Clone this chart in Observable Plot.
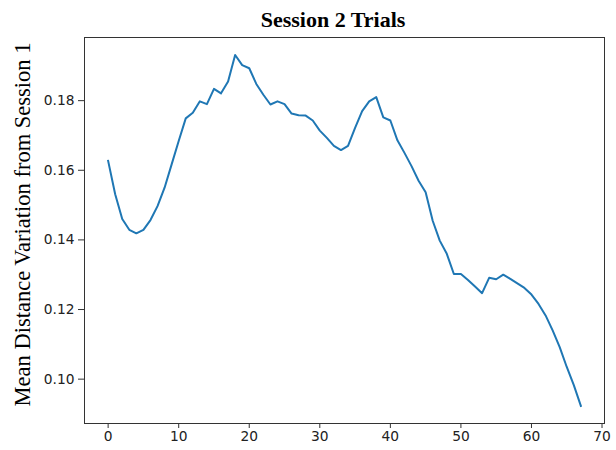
<!DOCTYPE html>
<html>
<head>
<meta charset="utf-8">
<script src="https://cdn.jsdelivr.net/npm/d3@7"></script>
<script src="https://cdn.jsdelivr.net/npm/@observablehq/plot@0.6"></script>
<style>
  html, body { margin: 0; padding: 0; background: #fff; }
  #wrap { position: relative; width: 616px; height: 450px; }
  #title {
    position: absolute; left: 0; top: 6px; width: 666px;
    text-align: center;
    font-family: "Liberation Serif", "Times New Roman", serif;
    font-weight: bold; font-size: 22px; color: #000;
    height: 30px; line-height: 28px;
  }
  #chart { position: absolute; left: 0; top: 37px; }
</style>
</head>
<body>
<div id="wrap">
  <div id="title">Session 2 Trials</div>
  <div id="chart"></div>
</div>
<script>
// Mean distance variation from session 1, one value per session-2 trial
const trials = d3.range(0, 68);
const meanVariation = [
  0.1627, 0.1531, 0.1460, 0.1429, 0.1419, 0.1429, 0.1457, 0.1497, 0.1550, 0.1617,
  0.1684, 0.1749, 0.1765, 0.1798, 0.1790, 0.1834, 0.1821, 0.1855, 0.1931, 0.1902,
  0.1893, 0.1848, 0.1817, 0.1789, 0.1798, 0.1790, 0.1763, 0.1758, 0.1757, 0.1743,
  0.1714, 0.1693, 0.1670, 0.1658, 0.1670, 0.1722, 0.1770, 0.1798, 0.1810, 0.1752,
  0.1743, 0.1686, 0.1650, 0.1612, 0.1570, 0.1537, 0.1455, 0.1398, 0.1360, 0.1302,
  0.1302, 0.1285, 0.1266, 0.1247, 0.1291, 0.1287, 0.1300, 0.1288, 0.1275, 0.1262,
  0.1243, 0.1216, 0.1183, 0.1140, 0.1092, 0.1035, 0.0983, 0.0923
];
const xTicks = [0, 10, 20, 30, 40, 50, 60, 70];
const yTicks = [0.10, 0.12, 0.14, 0.16, 0.18];
const yLabel = "Mean Distance Variation from Session 1";

const data = trials.map((t, i) => ({trial: t, value: meanVariation[i]}));

// 5% padding around the data extent on both axes
const xExt = d3.extent(trials);
const yExt = d3.extent(meanVariation);
const xPad = (xExt[1] - xExt[0]) * 0.05;
const yPad = (yExt[1] - yExt[0]) * 0.05;

const tickFont = {fontFamily: "'DejaVu Sans', sans-serif", fontSize: 13.8};

const chart = Plot.plot({
  width: 616,
  height: 413,
  marginTop: 0,
  marginLeft: 84,
  marginRight: 12,
  marginBottom: 27,
  style: {background: "#fff", color: "#222"},
  x: {domain: [xExt[0] - xPad, xExt[1] + xPad]},
  y: {domain: [yExt[0] - yPad, yExt[1] + yPad]},
  marks: [
    Plot.axisX(xTicks, {
      tickSize: 5, tickPadding: 3, label: null, stroke: "#333",
      ...tickFont, fill: "#222"
    }),
    Plot.axisY(yTicks, {
      tickSize: 6, tickPadding: 4, label: null, stroke: "#333",
      tickFormat: d3.format(".2f"), ...tickFont, fill: "#222"
    }),
    Plot.frame({stroke: "#333", strokeWidth: 1}),
    Plot.line(data, {
      x: "trial", y: "value",
      stroke: "#1f77b4", strokeWidth: 2, strokeLinejoin: "round", strokeLinecap: "square"
    }),
    Plot.text([yLabel], {
      text: d => d, frameAnchor: "left", dx: -62, dy: -6, rotate: -90,
      textAnchor: "middle", lineAnchor: "middle",
      fontFamily: "'Liberation Serif', 'Times New Roman', serif",
      fontSize: 22.5, fill: "#000"
    })
  ]
});

document.getElementById("chart").appendChild(chart);
</script>
</body>
</html>
